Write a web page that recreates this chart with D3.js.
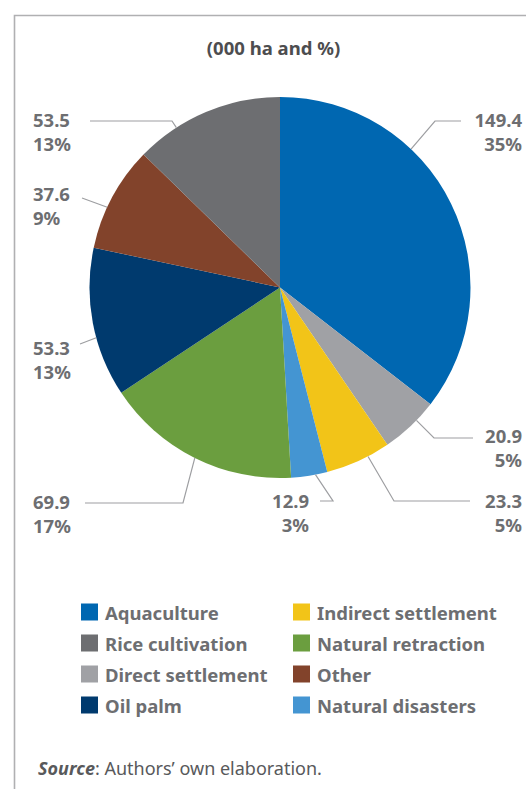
<!DOCTYPE html>
<html>
<head>
<meta charset="utf-8">
<script src="https://cdn.jsdelivr.net/npm/d3@7"></script>
<style>
  html, body { margin: 0; padding: 0; background: #fff; }
  svg { display: block; }
  text { font-family: "Noto Sans", "Open Sans", sans-serif; }
</style>
</head>
<body>
<svg id="chart" width="526" height="789"></svg>
<script>
// Land converted, thousand hectares, drawn clockwise from 12 o'clock
const categories = ["Aquaculture", "Direct settlement", "Indirect settlement", "Natural disasters",
                    "Natural retraction", "Oil palm", "Other", "Rice cultivation"];
const areaValues = [149.4, 20.9, 23.3, 12.9, 69.9, 53.3, 37.6, 53.5];
const percentLabels = ["35%", "5%", "5%", "3%", "17%", "13%", "9%", "13%"];

// Legend reading order (two columns)
const legendOrder = ["Aquaculture", "Rice cultivation", "Direct settlement", "Oil palm",
                     "Indirect settlement", "Natural retraction", "Other", "Natural disasters"];

const colors = {
  "Aquaculture": "#0067b1",
  "Rice cultivation": "#6d6e71",
  "Direct settlement": "#a0a1a5",
  "Oil palm": "#003a6e",
  "Indirect settlement": "#f2c418",
  "Natural retraction": "#6b9e3f",
  "Other": "#82432b",
  "Natural disasters": "#4495d2"
};

// Label placement: t = position of the leader's start along the slice arc,
// elbow/end = leader path, lx/ly = text anchor, anchor = text alignment
const labelLayout = {
  "Aquaculture":         { t: 0.34, elbow: [435, 121], end: [461, 121], lx: 522, ly: 121, anchor: "end" },
  "Direct settlement":   { t: 0.36, elbow: [434, 438], end: [473, 438], lx: 522, ly: 437, anchor: "end" },
  "Indirect settlement": { t: 0.34, elbow: [394, 501], end: [470, 501], lx: 522, ly: 502, anchor: "end" },
  "Natural disasters":   { t: 0.33, elbow: [333, 501], end: [320, 501], lx: 309, ly: 502, anchor: "end" },
  "Natural retraction":  { t: 0.50, elbow: [183, 503], end: [85, 503],  lx: 33,  ly: 503, anchor: "start" },
  "Oil palm":            { t: 0.40, elbow: [80, 344],  end: [80, 344],  lx: 33,  ly: 349, anchor: "start" },
  "Other":               { t: 0.40, elbow: [82, 198],  end: [82, 198],  lx: 33,  ly: 195, anchor: "start" },
  "Rice cultivation":    { t: 0.28, elbow: [172, 121], end: [90, 121],  lx: 33,  ly: 121, anchor: "start" }
};

const svg = d3.select("#chart");
const labelGrey = "#6d6e71";

// Panel frame (top and left rules)
svg.append("path")
  .attr("d", "M14.5,789 V15.5 H526")
  .attr("fill", "none")
  .attr("stroke", "#b0b0b2")
  .attr("stroke-width", 1.6);

// Title
svg.append("text")
  .attr("x", 273.5).attr("y", 47)
  .attr("text-anchor", "middle")
  .attr("dominant-baseline", "central")
  .attr("font-size", 18.5).attr("font-weight", "bold")
  .attr("fill", "#4d4d4f")
  .text("(000 ha and %)");

// Pie
const cx = 280, cy = 287.5, radius = 190.5;
const data = categories.map((c, i) => ({ category: c, value: areaValues[i], pct: percentLabels[i] }));
const pie = d3.pie().sort(null).value(d => d.value).startAngle(0).endAngle(2 * Math.PI);
const arcs = pie(data);
const arc = d3.arc().innerRadius(0).outerRadius(radius);

const g = svg.append("g").attr("transform", `translate(${cx},${cy})`);
g.selectAll("path.slice")
  .data(arcs)
  .join("path")
  .attr("class", "slice")
  .attr("d", arc)
  .attr("fill", d => colors[d.data.category]);

// Leader lines and value labels
const labels = svg.append("g");
arcs.forEach(a => {
  const L = labelLayout[a.data.category];
  const ang = a.startAngle + (a.endAngle - a.startAngle) * L.t;
  const sx = cx + radius * Math.sin(ang);
  const sy = cy - radius * Math.cos(ang);
  labels.append("path")
    .attr("d", d3.line()([[sx, sy], L.elbow, L.end]))
    .attr("fill", "none")
    .attr("stroke", "#9d9ea1")
    .attr("stroke-width", 1.2);
  const t = labels.append("text")
    .attr("x", L.lx).attr("y", L.ly)
    .attr("text-anchor", L.anchor)
    .attr("font-size", 18.5).attr("font-weight", "bold")
    .attr("fill", labelGrey);
  t.append("tspan").attr("x", L.lx).attr("dy", "0.35em").text(d3.format(".1f")(a.data.value));
  t.append("tspan").attr("x", L.lx).attr("dy", 24).text(a.data.pct);
});

// Legend
const legend = svg.append("g");
legendOrder.forEach((name, i) => {
  const col = Math.floor(i / 4), row = i % 4;
  const x = col === 0 ? 81 : 293;
  const y = 612 + row * 31;
  legend.append("rect")
    .attr("x", x).attr("y", y - 8.5)
    .attr("width", 17).attr("height", 17)
    .attr("fill", colors[name]);
  legend.append("text")
    .attr("x", x + 24).attr("y", y)
    .attr("dominant-baseline", "central")
    .attr("font-size", 18.5).attr("font-weight", "bold")
    .attr("fill", labelGrey)
    .text(name);
});

// Source note
const src = svg.append("text")
  .attr("x", 38).attr("y", 768)
  .attr("dominant-baseline", "central")
  .attr("font-size", 18)
  .attr("fill", "#58595b");
src.append("tspan").attr("font-style", "italic").attr("font-weight", "bold").text("Source");
src.append("tspan").text(": Authors’ own elaboration.");
</script>
</body>
</html>
